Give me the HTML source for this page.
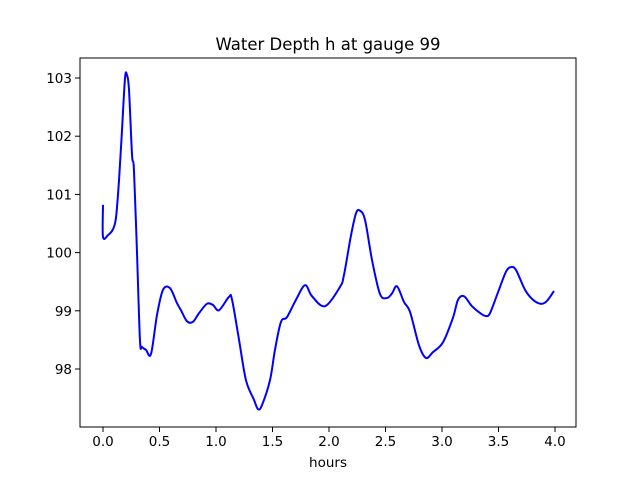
<!DOCTYPE html>
<html><head><meta charset="utf-8"><style>
body{margin:0;background:#fff;}
svg{display:block;font-family:"DejaVu Sans","Liberation Sans",sans-serif;}
</style></head><body>
<svg id="chart" width="640" height="480"></svg>
<script>
const xTicks=[0,0.5,1,1.5,2,2.5,3,3.5,4];
const xTickLabels=["0.0","0.5","1.0","1.5","2.0","2.5","3.0","3.5","4.0"];
const yTicks=[98,99,100,101,102,103];
const yTickLabels=["98","99","100","101","102","103"];
const hours=[0,0,0.044,0.088,0.115,0.142,0.168,0.195,0.212,0.23,0.257,0.274,0.3,0.327,0.345,0.38,0.425,0.478,0.531,0.593,0.655,0.69,0.743,0.796,0.85,0.92,0.973,1.027,1.115,1.142,1.204,1.265,1.336,1.372,1.407,1.478,1.522,1.575,1.628,1.708,1.788,1.85,1.965,2.097,2.133,2.195,2.24,2.274,2.319,2.381,2.451,2.513,2.558,2.602,2.664,2.717,2.796,2.858,2.92,3.009,3.097,3.142,3.195,3.265,3.345,3.389,3.425,3.496,3.566,3.611,3.655,3.735,3.805,3.876,3.929,3.991];
const depth=[100.82,100.27,100.3,100.4,100.6,101.25,102.1,103.0,103.05,102.8,101.68,101.42,100.05,98.5,98.38,98.33,98.26,98.93,99.36,99.39,99.13,99.01,98.82,98.81,98.96,99.12,99.1,99.01,99.24,99.19,98.5,97.81,97.47,97.31,97.38,97.81,98.33,98.81,98.89,99.19,99.44,99.25,99.08,99.41,99.62,100.3,100.68,100.72,100.56,99.87,99.29,99.22,99.3,99.42,99.15,98.98,98.41,98.19,98.29,98.46,98.88,99.19,99.25,99.08,98.95,98.91,98.96,99.32,99.67,99.75,99.7,99.36,99.19,99.12,99.17,99.34];

const NS="http://www.w3.org/2000/svg";
const svg=document.getElementById('chart');
const L=80,R=576,T=58,B=427;
const xs=h=>103+113*h;
const ys=v=>369-58.2*(v-98);
function mk(tag,attrs){const e=document.createElementNS(NS,tag);for(const k in attrs)e.setAttribute(k,attrs[k]);svg.appendChild(e);return e;}

// data line
let pts=hours.map((h,i)=>[xs(h),ys(depth[i])]);
let d="M"+pts[0][0]+","+pts[0][1];
for(let i=0;i<pts.length-1;i++){
  const p0=pts[Math.max(0,i-1)],p1=pts[i],p2=pts[i+1],p3=pts[Math.min(pts.length-1,i+2)];
  const c1x=p1[0]+(p2[0]-p0[0])/6,c1y=p1[1]+(p2[1]-p0[1])/6;
  const c2x=p2[0]-(p3[0]-p1[0])/6,c2y=p2[1]-(p3[1]-p1[1])/6;
  d+=` C${c1x},${c1y} ${c2x},${c2y} ${p2[0]},${p2[1]}`;
}
const line=mk('path',{d:d,fill:'none',stroke:'#0000ff','stroke-width':2,'stroke-linejoin':'round'});



const frame=mk('rect',{x:L,y:T,width:R-L,height:B-T,fill:'none',stroke:'#000','stroke-width':1});



xTicks.forEach((t,i)=>{
  const x=xs(t);
  const tk=mk('line',{x1:x,y1:B,x2:x,y2:B+5,stroke:'#000'});
  
  
  const tx=mk('text',{x:x,y:B+19,'text-anchor':'middle','font-size':'13.5',fill:'#000'});
  tx.textContent=xTickLabels[i];
  
  
});
yTicks.forEach((t,i)=>{
  const y=ys(t);
  const tk=mk('line',{x1:L-5,y1:y,x2:L,y2:y,stroke:'#000'});
  
  
  const tx=mk('text',{x:L-8,y:y+5,'text-anchor':'end','font-size':'13.5',fill:'#000'});
  tx.textContent=yTickLabels[i];
  
  
});
const xl=mk('text',{x:(L+R)/2,y:467,'text-anchor':'middle','font-size':'13.5',fill:'#000'});
xl.textContent='hours';


const ti=mk('text',{x:(L+R)/2,y:50,'text-anchor':'middle','font-size':'16.5',fill:'#000'});
ti.textContent='Water Depth h at gauge 99';


</script>
</body></html>
